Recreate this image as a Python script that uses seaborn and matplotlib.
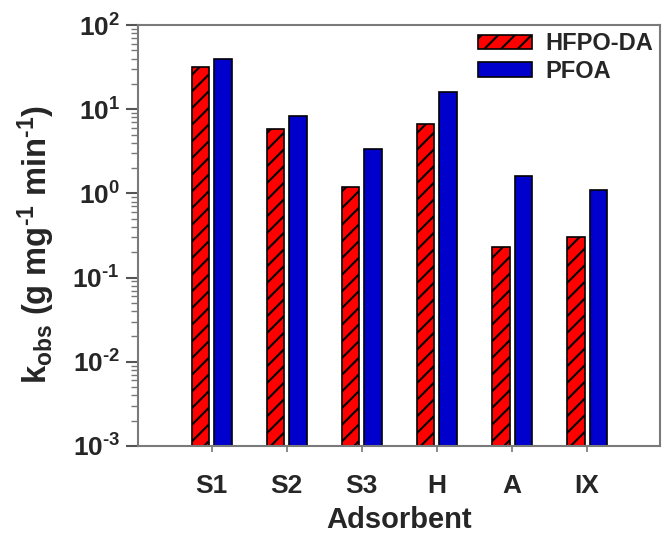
import math
import matplotlib
matplotlib.use("Agg")
import matplotlib.pyplot as plt
import seaborn as sns
import pandas as pd
from matplotlib.patches import Patch
from matplotlib.ticker import LogLocator, FuncFormatter, NullFormatter

categories = ["S1", "S2", "S3", "H", "A", "IX"]
series_names = ["HFPO-DA", "PFOA"]
hfpo_da = [32.0, 5.8, 1.18, 6.7, 0.23, 0.30]
pfoa = [39.5, 8.4, 3.4, 16.1, 1.62, 1.1]

df = pd.DataFrame({
    "Adsorbent": categories * 2,
    "Series": [series_names[0]] * len(categories) + [series_names[1]] * len(categories),
    "k": hfpo_da + pfoa,
})

sns.set_theme(style="white")
plt.rcParams["font.family"] = ["Liberation Sans", "DejaVu Sans"]
plt.rcParams["font.weight"] = "bold"
plt.rcParams["mathtext.fontset"] = "custom"
plt.rcParams["mathtext.rm"] = "Liberation Sans:bold"
plt.rcParams["mathtext.bf"] = "Liberation Sans:bold"
plt.rcParams["mathtext.it"] = "Liberation Sans:bold"
plt.rcParams["mathtext.sf"] = "Liberation Sans:bold"
plt.rcParams["axes.unicode_minus"] = False
plt.rcParams["hatch.linewidth"] = 1.5
plt.rcParams["hatch.color"] = "black"

colors = {"HFPO-DA": "#FF0000", "PFOA": "#0000CC"}

fig = plt.figure(figsize=(6.62, 5.34), dpi=100)
ax = fig.add_axes([0.2085, 0.1648, 0.7885, 0.7882])

sns.barplot(data=df, x="Adsorbent", y="k", hue="Series", order=categories,
            hue_order=series_names, palette=colors, saturation=1,
            width=0.6, gap=0.22,
            edgecolor="black", linewidth=1.2, log_scale=(False, True),
            legend=False, ax=ax)

for bar in ax.containers[0]:
    bar.set_hatch("//")

ax.set_yscale("log")
ax.set_ylim(1e-3, 1e2)
ax.set_xlim(-0.98, 5.97)

ax.yaxis.set_major_locator(LogLocator(base=10, numticks=10))
ax.yaxis.set_minor_locator(LogLocator(base=10, subs=range(2, 10), numticks=20))
ax.yaxis.set_major_formatter(FuncFormatter(
    lambda v, p: r"$\mathregular{10^{%s}}$" % ("{\\text{-}}%d" % -round(math.log10(v)) if v < 1 else "%d" % round(math.log10(v)))))
ax.yaxis.set_minor_formatter(NullFormatter())

for s in ax.spines.values():
    s.set_color("#7a7a7a")
    s.set_linewidth(1.5)
    s.set_visible(True)

ax.tick_params(axis="y", which="major", direction="out", length=9, width=1.5,
               color="#555555", left=True, labelsize=19, pad=4)
ax.tick_params(axis="y", which="minor", direction="out", length=5, width=1.0,
               color="#777777", left=True)
ax.tick_params(axis="x", which="major", direction="out", length=4, width=1.2,
               color="#777777", bottom=True, labelsize=19, pad=16)
for lab in ax.get_xticklabels():
    lab.set_fontweight("bold")
for lab in ax.get_yticklabels():
    lab.set_fontweight("bold")

ax.set_xlabel("Adsorbent", fontsize=21, fontweight="bold", labelpad=6)
ax.set_ylabel(r"k$_{\mathregular{obs}}$ (g mg$^{\mathregular{{\text{-}}1}}$ min$^{\mathregular{{\text{-}}1}}$)",
              fontsize=23.5, fontweight="bold")
ax.yaxis.set_label_coords(-0.155, 0.48)

handles = [Patch(facecolor=colors["HFPO-DA"], edgecolor="black", hatch="//", linewidth=1.2),
           Patch(facecolor=colors["PFOA"], edgecolor="black", linewidth=1.2)]
leg = ax.legend(handles, series_names, loc="upper right", frameon=False,
                handlelength=2.3, handleheight=0.55,
                handletextpad=0.55, labelspacing=0.2, borderaxespad=0.0,
                borderpad=0.3, prop={"weight": "bold", "size": 17})

fig.savefig("out.png", dpi=100)
